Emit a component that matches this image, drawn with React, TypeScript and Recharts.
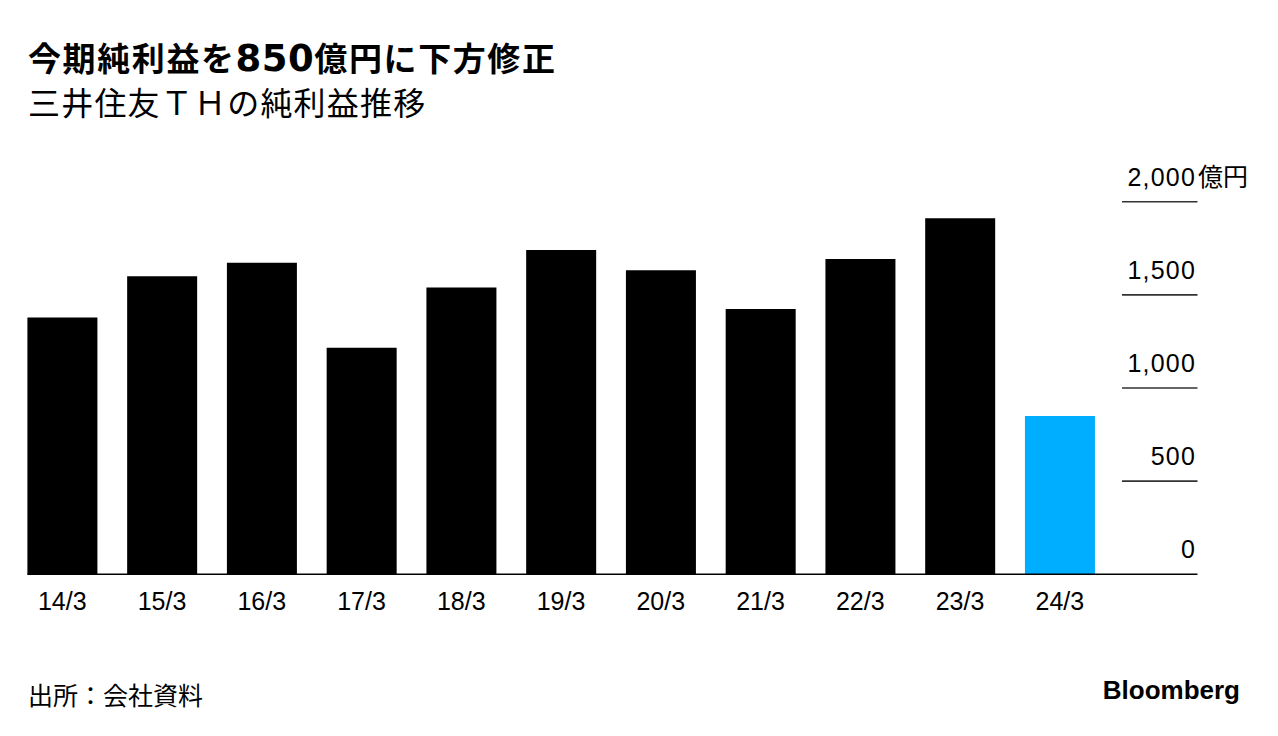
import React from 'react';
import { BarChart, Bar, XAxis, YAxis, Cell } from 'recharts';

const categories = ['14/3', '15/3', '16/3', '17/3', '18/3', '19/3', '20/3', '21/3', '22/3', '23/3', '24/3'];
const netIncome = [1379, 1600, 1672, 1216, 1540, 1741, 1632, 1424, 1692, 1911, 850];
const highlightCategory = '24/3';
const yTicks = [0, 500, 1000, 1500, 2000];
const yUnit = '億円';
const titlePre = '今期純利益を';
const titleNum = '850';
const titlePost = '億円に下方修正';
const subtitle = '三井住友ＴＨの純利益推移';
const source = '出所：会社資料';
const brand = 'Bloomberg';

const data = categories.map((c, i) => ({ category: c, value: netIncome[i] }));

const LATIN = '"Liberation Sans", Arial, Helvetica, sans-serif';
const CJK = '"Noto Sans CJK JP", "Noto Sans CJK SC", sans-serif';

const XTick = (props: any) => {
  const { x, payload } = props;
  return (
    <text x={x} y={609.5} textAnchor="middle" fontFamily={LATIN} fontSize={25} fill="#000">
      {payload.value}
    </text>
  );
};

const YTick = (props: any) => {
  const { y, payload } = props;
  const v = payload.value as number;
  const isZero = v === 0;
  const top = v === yTicks[yTicks.length - 1];
  return (
    <g>
      <line
        x1={isZero ? 27.3 : 1122}
        x2={1197.5}
        y1={y}
        y2={y}
        stroke={isZero ? '#000' : '#333'}
        strokeWidth={1.6}
      />
      <text x={1196} y={y - 16} textAnchor="end" fontFamily={LATIN} fontSize={25} letterSpacing={1.2} fill="#000">
        {v.toLocaleString('en-US')}
      </text>
      {top && (
        <text x={1198} y={y - 16} textAnchor="start" fontFamily={CJK} fontSize={25} fill="#000">
          {yUnit}
        </text>
      )}
    </g>
  );
};

export default function App() {
  return (
    <div style={{ position: 'absolute', left: 0, top: 0, width: 1278, height: 736, background: '#fff' }}>
      <div style={{ position: 'absolute', left: 0, top: 0 }}>
        <BarChart
          width={1278}
          height={736}
          data={data}
          margin={{ top: 201.7, right: 0, bottom: 121.7, left: 12.4 }}
          barSize={70}
        >
          <XAxis
            dataKey="category"
            height={40}
            axisLine={false}
            tickLine={false}
            interval={0}
            tick={<XTick />}
          />
          <YAxis
            orientation="right"
            width={168.3}
            domain={[0, 2000]}
            ticks={yTicks}
            interval={0}
            axisLine={false}
            tickLine={false}
            tick={<YTick />}
          />
          <Bar dataKey="value" isAnimationActive={false}>
            {data.map((d) => (
              <Cell key={d.category} fill={d.category === highlightCategory ? '#00AEFF' : '#000000'} />
            ))}
          </Bar>
        </BarChart>
      </div>
      <svg
        width={1278}
        height={736}
        style={{ position: 'absolute', left: 0, top: 0, pointerEvents: 'none' }}
      >
        <text x={28} y={71} fontFamily={CJK} fontWeight={700} fontSize={33} letterSpacing={1.6} fill="#000">
          {titlePre}
          <tspan fontFamily={'"DejaVu Sans", sans-serif'} fontSize={37} letterSpacing={0.5}>
            {titleNum}
          </tspan>
          {titlePost}
        </text>
        <text x={28} y={115} fontFamily={CJK} fontWeight={400} fontSize={32} letterSpacing={1.2} fill="#000">
          {subtitle}
        </text>
        <text x={28} y={705} fontFamily={CJK} fontSize={25} fill="#000">
          {source}
        </text>
        <text x={1240} y={698.5} textAnchor="end" fontFamily={LATIN} fontWeight={700} fontSize={26} fill="#000">
          {brand}
        </text>
      </svg>
    </div>
  );
}
